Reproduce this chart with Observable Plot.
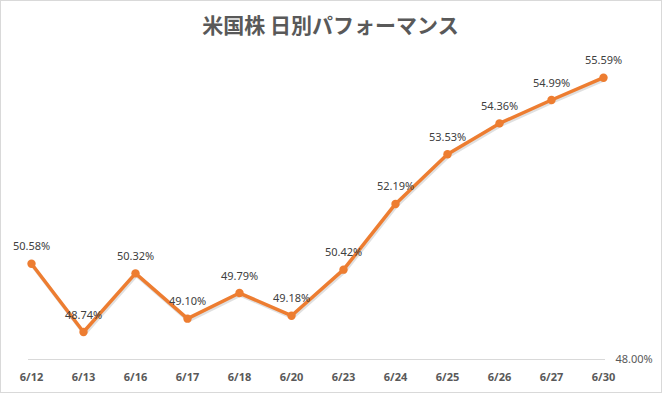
<!DOCTYPE html>
<html><head><meta charset="utf-8">
<script src="https://cdn.jsdelivr.net/npm/d3@7"></script>
<script src="https://cdn.jsdelivr.net/npm/@observablehq/plot@0.6"></script>
<style>
body{margin:0;background:#fff;}
#wrap{width:660px;height:391px;border:1px solid #d9d9d9;position:relative;background:#fff;}
</style></head>
<body><div id="wrap"></div>
<script>
const dates = ["6/12","6/13","6/16","6/17","6/18","6/20","6/23","6/24","6/25","6/26","6/27","6/30"];
const values = [50.58,48.74,50.32,49.10,49.79,49.18,50.42,52.19,53.53,54.36,54.99,55.59];
const yTicks = [48];
const title = "米国株 日別パフォーマンス";

const data = dates.map((d,i)=>({date:d, value:values[i]}));
const W = 660, H = 391;
const chart = Plot.plot({
  width: W, height: H,
  marginLeft: 27, marginRight: 56, marginTop: 61, marginBottom: 33,
  style: {fontFamily: "'Noto Sans', sans-serif", fontSize: "11px", background: "#fff", overflow: "visible"},
  x: {type: "point", domain: dates, padding: 0},
  y: {domain: [48, 56], axis: null},
  marks: [
    Plot.ruleY(yTicks, {stroke: "#d9d9d9", strokeWidth: 1}),
    Plot.axisX({tickSize: 0, tickPadding: 14, fontWeight: "bold", fill: "#595959", fontSize: 11, label: null}),
    Plot.text(yTicks, {x: () => dates[dates.length-1], y: d => d, text: d => d.toFixed(2) + "%", dx: 12, textAnchor: "start", fill: "#595959", fontSize: 11}),
    Plot.line(data, {x: "date", y: "value", stroke: "rgba(0,0,0,0.12)", strokeWidth: 3.5, dx: 1, dy: 2}),
    Plot.line(data, {x: "date", y: "value", stroke: "#ED7D31", strokeWidth: 3.5, strokeLinejoin: "round", strokeLinecap: "round"}),
    Plot.dot(data, {x: "date", y: "value", r: 4.2, fill: "#ED7D31", stroke: "none"}),
    Plot.text(data, {x: "date", y: "value", text: d => d.value.toFixed(2) + "%", dy: -17, fill: "#404040", fontSize: 11}),
    Plot.text([title], {frameAnchor: "top", text: d => d, dx: 13.5, dy: -44, fill: "#595959", fontSize: 21, fontFamily: "'Noto Sans CJK JP', sans-serif", fontWeight: "bold"})
  ]
});
document.getElementById("wrap").appendChild(chart);
</script></body></html>
